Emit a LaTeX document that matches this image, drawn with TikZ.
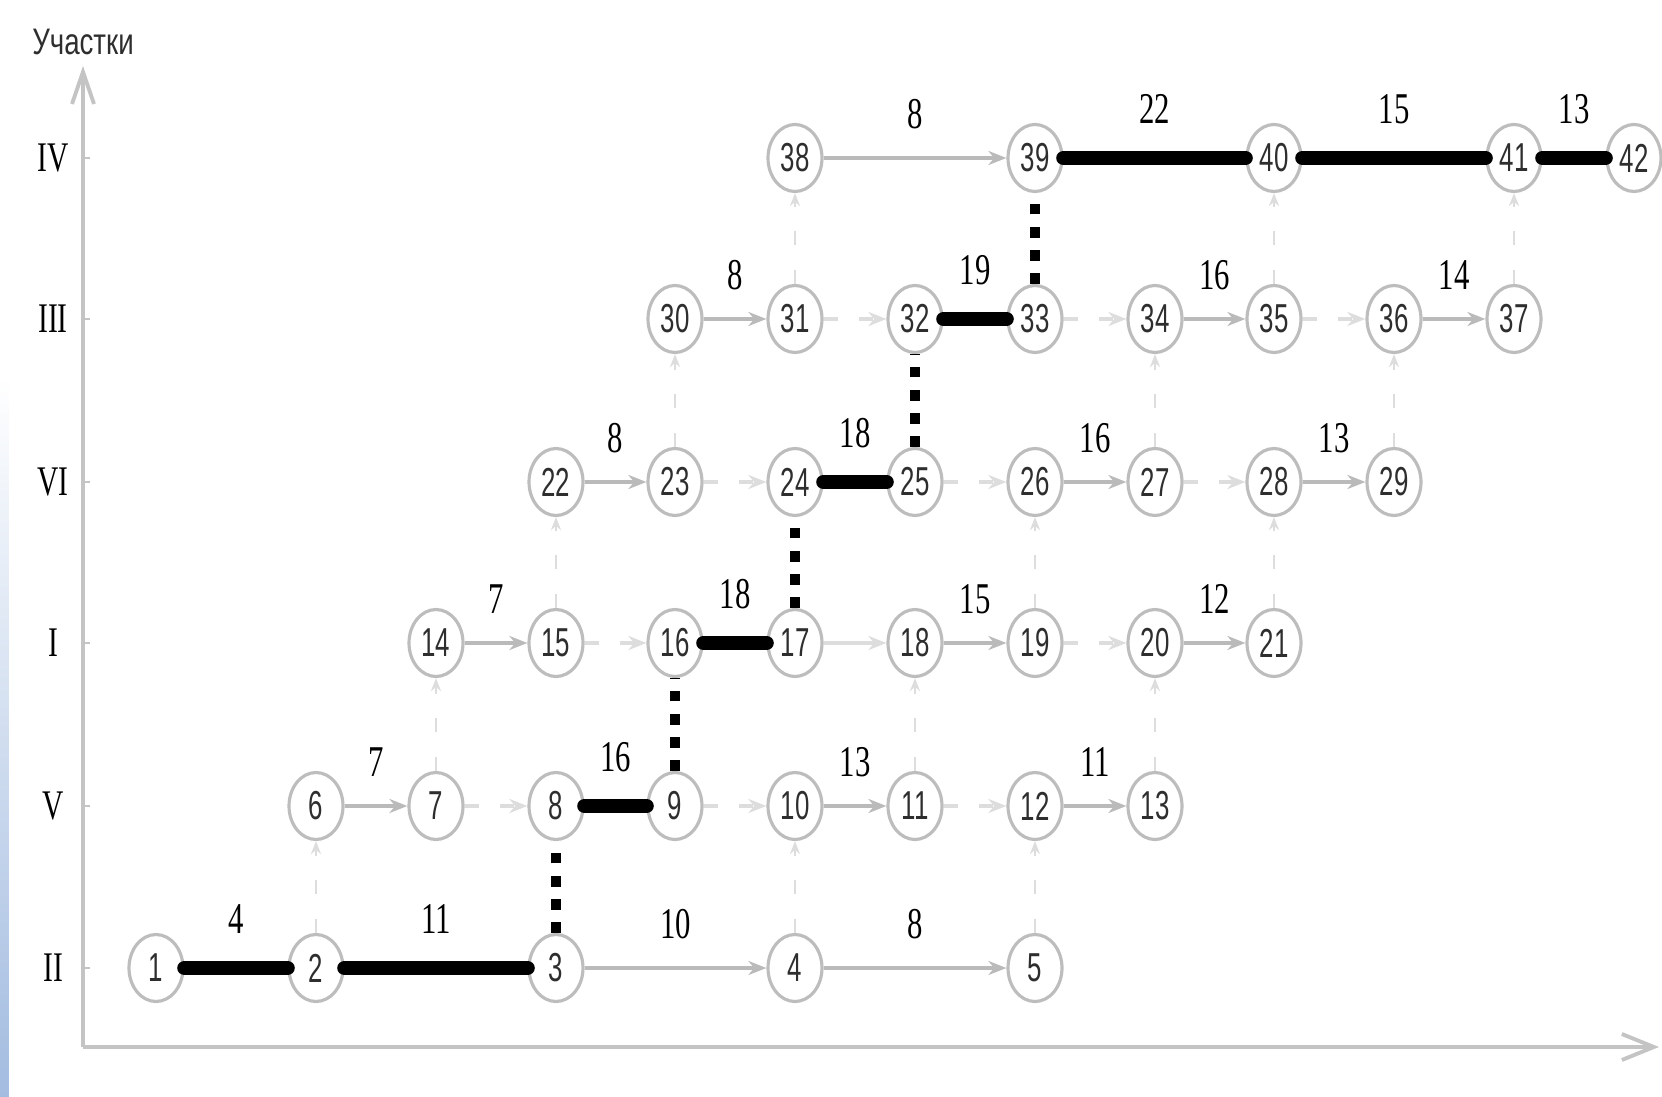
\documentclass[tikz,border=0pt]{standalone}
\usepackage{fontspec}
\setmainfont{Liberation Serif}
\newfontfamily\numfont[FakeStretch=0.64]{Liberation Sans}
\newfontfamily\durfont[FakeStretch=0.7]{Liberation Serif}
\newfontfamily\axisfont[FakeStretch=0.75]{Liberation Sans}
\usetikzlibrary{shapes.geometric,positioning}
\usetikzlibrary{arrows.meta}

\definecolor{ringgray}{HTML}{BDBDBD}
\definecolor{linegray}{HTML}{BABABA}
\definecolor{dummygray}{HTML}{DDDDDD}
\definecolor{numgray}{HTML}{2E2E2E}
\definecolor{axisgray}{HTML}{C4C4C4}
\definecolor{stripblue}{HTML}{A3BCE0}

\tikzset{
  event/.style={draw=ringgray, line width=0.9pt, ellipse, minimum width=0.54cm, minimum height=0.67cm, inner sep=0pt, fill=white, text=numgray, font=\numfont\fontsize{11.5}{12}\selectfont},
  work/.style={draw=linegray, line width=1.2pt, -{Stealth[length=1.8mm, width=1.4mm]}},
  dummy/.style={work, draw=dummygray, dash pattern=on 4pt off 6pt},
  vdummy/.style={draw=dummygray, line width=0.6pt, dash pattern=on 4pt off 7pt, -{Stealth[length=1.3mm, width=1mm]}},
  crit/.style={draw=black, line width=4.2pt, line cap=round},
  critdummy/.style={draw=black, line width=3pt, dash pattern=on 3pt off 3.6pt},
  dur/.style={font=\durfont\fontsize{12.5}{13}\selectfont, inner sep=0pt, above=0.27cm},
  section/.style={font=\durfont\fontsize{12}{12}\selectfont, inner sep=0pt}
}

\begin{document}
\begin{tikzpicture}
\useasboundingbox (0,0) rectangle (16.62,10.96);
\shade[top color=white, bottom color=stripblue] (0,0) rectangle (0.09,7.2);

% axes
\coordinate (origin) at (0.83,0.49);
\coordinate (ytop) at (0.83,10.3);
\coordinate (xend) at (16.59,0.49);
\draw[axisgray, line width=1.1pt, -{Straight Barb[length=3.2mm, width=2.2mm]}] (origin) -- (ytop);
\draw[axisgray, line width=1.1pt, -{Straight Barb[length=3.2mm, width=2.6mm]}] (origin) -- (xend);
\node[font=\axisfont\fontsize{10.5}{11}\selectfont, text=numgray] (axislabel) at (0.83,10.54) {Участки};

% sections
\node[section] (sIV) at (0.53,9.38) {IV};
\node[section] (sIII) at (0.53,7.77) {III};
\node[section] (sVI) at (0.53,6.14) {VI};
\node[section] (sI) at (0.53,4.53) {I};
\node[section] (sV) at (0.53,2.90) {V};
\node[section] (sII) at (0.53,1.28) {II};
\foreach \r in {9.38,7.77,6.14,4.53,2.90,1.28}
  \draw[axisgray, line width=0.6pt] (0.83,\r) -- (0.9,\r);

% events, section II
\node[event] (e1) at (1.56,1.28) {1};
\node[event] (e2) at (3.16,1.28) {2};
\node[event] (e3) at (5.56,1.28) {3};
\node[event] (e4) at (7.95,1.28) {4};
\node[event] (e5) at (10.35,1.28) {5};
% section V
\node[event] (e6) at (3.16,2.90) {6};
\node[event] (e7) at (4.36,2.90) {7};
\node[event] (e8) at (5.56,2.90) {8};
\node[event] (e9) at (6.75,2.90) {9};
\node[event] (e10) at (7.95,2.90) {10};
\node[event] (e11) at (9.15,2.90) {11};
\node[event] (e12) at (10.35,2.90) {12};
\node[event] (e13) at (11.55,2.90) {13};
% section I
\node[event] (e14) at (4.36,4.53) {14};
\node[event] (e15) at (5.56,4.53) {15};
\node[event] (e16) at (6.75,4.53) {16};
\node[event] (e17) at (7.95,4.53) {17};
\node[event] (e18) at (9.15,4.53) {18};
\node[event] (e19) at (10.35,4.53) {19};
\node[event] (e20) at (11.55,4.53) {20};
\node[event] (e21) at (12.74,4.53) {21};
% section VI
\node[event] (e22) at (5.56,6.14) {22};
\node[event] (e23) at (6.75,6.14) {23};
\node[event] (e24) at (7.95,6.14) {24};
\node[event] (e25) at (9.15,6.14) {25};
\node[event] (e26) at (10.35,6.14) {26};
\node[event] (e27) at (11.55,6.14) {27};
\node[event] (e28) at (12.74,6.14) {28};
\node[event] (e29) at (13.94,6.14) {29};
% section III
\node[event] (e30) at (6.75,7.77) {30};
\node[event] (e31) at (7.95,7.77) {31};
\node[event] (e32) at (9.15,7.77) {32};
\node[event] (e33) at (10.35,7.77) {33};
\node[event] (e34) at (11.55,7.77) {34};
\node[event] (e35) at (12.74,7.77) {35};
\node[event] (e36) at (13.94,7.77) {36};
\node[event] (e37) at (15.14,7.77) {37};
% section IV
\node[event] (e38) at (7.95,9.38) {38};
\node[event] (e39) at (10.35,9.38) {39};
\node[event] (e40) at (12.74,9.38) {40};
\node[event] (e41) at (15.14,9.38) {41};
\node[event] (e42) at (16.34,9.38) {42};

% works on sections
\draw[crit] (e1) -- node[dur] {4} (e2);
\draw[crit] (e2) -- node[dur] {11} (e3);
\draw[work] (e3) -- node[dur] {10} (e4);
\draw[work] (e4) -- node[dur] {8} (e5);

\draw[work] (e6) -- node[dur] {7} (e7);
\draw[dummy] (e7) -- (e8);
\draw[crit] (e8) -- node[dur] {16} (e9);
\draw[dummy] (e9) -- (e10);
\draw[work] (e10) -- node[dur] {13} (e11);
\draw[dummy] (e11) -- (e12);
\draw[work] (e12) -- node[dur] {11} (e13);

\draw[work] (e14) -- node[dur] {7} (e15);
\draw[dummy] (e15) -- (e16);
\draw[crit] (e16) -- node[dur] {18} (e17);
\draw[work, draw=dummygray] (e17) -- (e18);
\draw[work] (e18) -- node[dur] {15} (e19);
\draw[dummy] (e19) -- (e20);
\draw[work] (e20) -- node[dur] {12} (e21);

\draw[work] (e22) -- node[dur] {8} (e23);
\draw[dummy] (e23) -- (e24);
\draw[crit] (e24) -- node[dur] {18} (e25);
\draw[dummy] (e25) -- (e26);
\draw[work] (e26) -- node[dur] {16} (e27);
\draw[dummy] (e27) -- (e28);
\draw[work] (e28) -- node[dur] {13} (e29);

\draw[work] (e30) -- node[dur] {8} (e31);
\draw[dummy] (e31) -- (e32);
\draw[crit] (e32) -- node[dur] {19} (e33);
\draw[dummy] (e33) -- (e34);
\draw[work] (e34) -- node[dur] {16} (e35);
\draw[dummy] (e35) -- (e36);
\draw[work] (e36) -- node[dur] {14} (e37);

\draw[work] (e38) -- node[dur] {8} (e39);
\draw[crit] (e39) -- node[dur] {22} (e40);
\draw[crit] (e40) -- node[dur] {15} (e41);
\draw[crit] (e41) -- node[dur] {13} (e42);

% links between sections
\draw[vdummy] (e2) -- (e6);
\draw[vdummy] (e4) -- (e10);
\draw[vdummy] (e5) -- (e12);
\draw[vdummy] (e7) -- (e14);
\draw[vdummy] (e11) -- (e18);
\draw[vdummy] (e13) -- (e20);
\draw[vdummy] (e15) -- (e22);
\draw[vdummy] (e19) -- (e26);
\draw[vdummy] (e21) -- (e28);
\draw[vdummy] (e23) -- (e30);
\draw[vdummy] (e27) -- (e34);
\draw[vdummy] (e29) -- (e36);
\draw[vdummy] (e31) -- (e38);
\draw[vdummy] (e35) -- (e40);
\draw[vdummy] (e37) -- (e41);

\draw[critdummy] (e3) -- (e8);
\draw[critdummy] (e9) -- (e16);
\draw[critdummy] (e17) -- (e24);
\draw[critdummy] (e25) -- (e32);
\draw[critdummy] (e33) -- (e39);

\end{tikzpicture}
\end{document}
